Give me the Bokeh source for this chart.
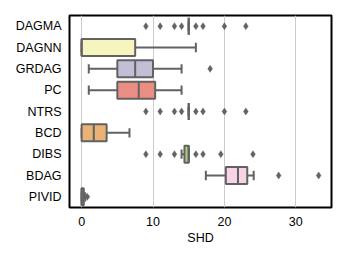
from bokeh.plotting import figure
from bokeh.models import Range1d, FixedTicker, ColumnDataSource
from bokeh.embed import file_html
from bokeh.resources import INLINE

methods = ["DAGMA", "DAGNN", "GRDAG", "PC", "NTRS", "BCD", "DIBS", "BDAG", "PIVID"]
q1 = [15, 0, 5, 5, 15, 0, 14.4, 20.2, 0]
median = [15, 0, 7.5, 8, 15, 1.7, 15, 21.9, 0]
q3 = [15, 7.5, 10, 10.3, 15, 3.5, 15, 23.2, 0.3]
whisker_lo = [15, 0, 1, 1, 15, 0, 14, 17.4, 0]
whisker_hi = [15, 16, 14, 14, 15, 6.7, 15, 24.1, 0.5]
fliers = {
    "DAGMA": [9, 11, 13, 14, 16, 17, 20, 23],
    "DAGNN": [],
    "GRDAG": [18],
    "PC": [],
    "NTRS": [9, 11, 13, 14, 16, 17, 20, 23],
    "BCD": [],
    "DIBS": [9, 11, 13, 16, 17, 19.5, 24],
    "BDAG": [27.6, 33.2],
    "PIVID": [0.8],
}
colors = ["#96cac1", "#f5f5bd", "#c1bed6", "#ea8d83", "#8bafc9",
          "#eab375", "#afcf78", "#f6d3e5", "#d9d9d9"]
x_ticks = [0, 10, 20, 30]

edge = "#626262"
pos = list(range(1, len(methods) + 1))

p = figure(width=337, height=251, output_backend="svg", toolbar_location=None,
           x_range=Range1d(-1.7, 35.0), y_range=Range1d(len(methods) + 0.5, 0.5),
           min_border_left=69, min_border_right=6, min_border_top=15, min_border_bottom=44)

src = ColumnDataSource(dict(y=pos, q1=q1, med=median, q3=q3, lo=whisker_lo, hi=whisker_hi,
                            color=colors,
                            ylo=[v - 0.22 for v in pos], yhi=[v + 0.22 for v in pos],
                            blo=[v - 0.4 for v in pos], bhi=[v + 0.4 for v in pos]))

# whiskers
p.segment(x0="lo", y0="y", x1="q1", y1="y", source=src, line_color=edge, line_width=2)
p.segment(x0="q3", y0="y", x1="hi", y1="y", source=src, line_color=edge, line_width=2)
# caps
p.segment(x0="lo", y0="ylo", x1="lo", y1="yhi", source=src, line_color=edge, line_width=2)
p.segment(x0="hi", y0="ylo", x1="hi", y1="yhi", source=src, line_color=edge, line_width=2)
# boxes
p.hbar(y="y", left="q1", right="q3", height=0.8, source=src, fill_color="color",
       line_color=edge, line_width=2)
# medians
p.segment(x0="med", y0="blo", x1="med", y1="bhi", source=src, line_color=edge, line_width=2)

fx, fy = [], []
for i, m in enumerate(methods):
    for v in fliers[m]:
        fx.append(v)
        fy.append(pos[i])
p.scatter(fx, fy, marker="diamond", size=7, fill_color=edge, line_color=edge, line_width=0.5)

p.xgrid.grid_line_color = "#cccccc"
p.xgrid.grid_line_width = 1
p.ygrid.grid_line_color = None
p.xaxis.ticker = FixedTicker(ticks=x_ticks)
p.yaxis.ticker = FixedTicker(ticks=pos)
p.yaxis.major_label_overrides = {i + 1: m for i, m in enumerate(methods)}

for ax in (p.xaxis[0], p.yaxis[0]):
    ax.axis_line_color = None
    ax.major_tick_line_color = None
    ax.minor_tick_line_color = None
    ax.major_label_text_font = "Liberation Sans"
    ax.major_label_text_font_size = "12.5px"
    ax.major_label_text_color = "black"
    ax.major_tick_out = 0
    ax.major_tick_in = 0
p.yaxis.major_label_standoff = 8
p.xaxis.major_label_standoff = 9
p.xaxis.axis_label = "SHD"
p.xaxis.axis_label_text_font = "Liberation Sans"
p.xaxis.axis_label_text_font_size = "12.5px"
p.xaxis.axis_label_text_font_style = "normal"
p.xaxis.axis_label_text_color = "black"
p.xaxis.axis_label_standoff = 2

p.outline_line_color = "black"
p.outline_line_width = 2
p.outline_line_alpha = 1

open("out.html", "w").write(file_html(p, INLINE))
